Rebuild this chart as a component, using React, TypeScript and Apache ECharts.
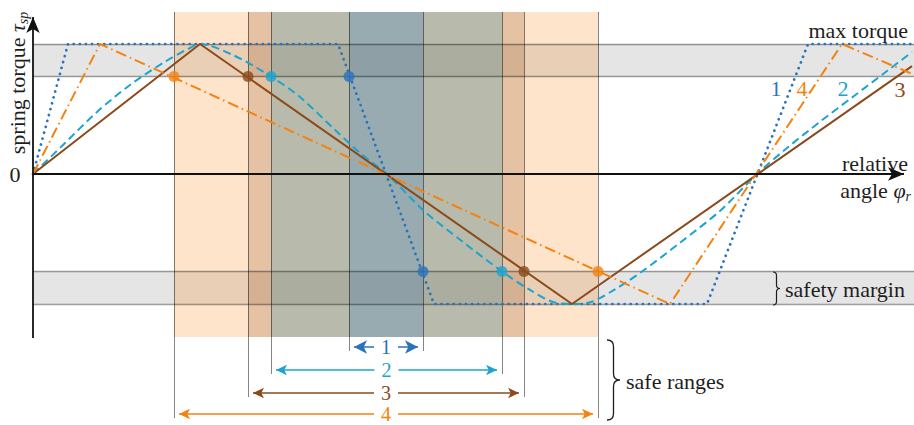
import React, { useEffect, useRef } from 'react';
import * as echarts from 'echarts';

// ---------------- DATA ----------------
// relative angle φr in drawing units from the origin, spring torque τsp normalised to max torque = 1
const maxTorque = 1;
const safetyLimit = 0.75;

// spring 1 (blue, dotted)
const angle1 = [0, 35, 305, 401, 674, 775, 879];
const torque1 = [0, 1, 1, -1, -1, 1, 1];
// spring 2 (cyan, dashed)
const angle2 = [0, 30, 64, 97, 130, 155, 167, 200, 238, 267, 300, 327, 354, 390, 430, 469, 497, 520, 539, 558, 581, 609, 648, 688, 724, 754, 788, 821, 854, 879];
const torque2 = [0, 0.223, 0.477, 0.685, 0.854, 0.962, 1, 0.915, 0.75, 0.592, 0.354, 0.162, 0, -0.277, -0.523, -0.75, -0.892, -0.985, -1, -0.985, -0.892, -0.75, -0.523, -0.277, 0, 0.2, 0.408, 0.6, 0.792, 0.938];
// spring 3 (brown, solid)
const angle3 = [0, 167, 539, 879];
const torque3 = [0, 1, -1, 0.83];
// spring 4 (orange, dash-dot)
const angle4 = [0, 67, 637, 809, 879];
const torque4 = [0, 1, -1, 1, 0.77];

// safe ranges per spring
const springLabels = ['1', '2', '3', '4'];
const safeStart = [316, 238, 215, 141];
const safeEnd = [390, 469, 491, 565];

// ---------------- LAYOUT / STYLE ----------------
const W = 914;
const H = 425;
const ORIGIN_X = 33;
const ORIGIN_Y = 174;
const PX_PER_TORQUE = 130;
const tauAt = (py: number) => (ORIGIN_Y - py) / PX_PER_TORQUE;
const angleAt = (px: number) => px - ORIGIN_X;

const FONT = "'Liberation Serif', 'DejaVu Serif', serif";
const TEXT = '#1e1e1e';
const springColors = ['#2a72bd', '#1ba4cf', '#8b4a1b', '#f5820f'];
const lineTypes: any[] = [[0.1, 6], [8, 4.5], 'solid', [11, 4, 1.5, 4]];
const lineCaps = ['round', 'butt', 'butt', 'butt'];
const lineWidths = [2.7, 2, 2, 2];
const arrowRowsPx = [347, 370, 393, 414];
const arrowSizes: any[] = [[10, 13], [8, 11], [8, 11], [8, 11]];
const bandTopPx = 12;
const bandBottomPx = 337;

const rgba = (hex: string, a: number) => {
  const n = parseInt(hex.slice(1), 16);
  return `rgba(${(n >> 16) & 255},${(n >> 8) & 255},${n & 255},${a})`;
};

const Brace = echarts.graphic.extendShape({
  shape: { x: 0, y: 0, w: 10, h: 40 },
  buildPath(ctx: any, s: any) {
    const { x, y, w, h } = s;
    const m = x + w / 2;
    const r = Math.min(w / 2, h / 5);
    ctx.moveTo(x, y);
    ctx.quadraticCurveTo(m, y, m, y + r);
    ctx.lineTo(m, y + h / 2 - r);
    ctx.quadraticCurveTo(m, y + h / 2, x + w, y + h / 2);
    ctx.quadraticCurveTo(m, y + h / 2, m, y + h / 2 + r);
    ctx.lineTo(m, y + h - r);
    ctx.quadraticCurveTo(m, y + h, x, y + h);
  },
});
echarts.graphic.registerShape('brace', Brace);

function buildOption() {
  const angles = [angle1, angle2, angle3, angle4];
  const torques = [torque1, torque2, torque3, torque4];
  const series: any[] = [];
  const xEnd = angleAt(W);

  // grey max-torque / safety-margin bands
  series.push({
    type: 'line',
    data: [],
    silent: true,
    markArea: {
      silent: true,
      z: 1,
      itemStyle: { color: 'rgba(0,0,0,0.1)' },
      data: [
        [{ coord: [0, maxTorque] }, { coord: [xEnd, safetyLimit] }],
        [{ coord: [0, -safetyLimit] }, { coord: [xEnd, -maxTorque] }],
      ],
    },
    markLine: {
      silent: true,
      z: 2,
      symbol: ['none', 'none'],
      label: { show: false },
      lineStyle: { color: 'rgba(0,0,0,0.38)', width: 1.3, type: 'solid' },
      data: [maxTorque, safetyLimit, -safetyLimit, -maxTorque].map((v) => [
        { coord: [0, v] },
        { coord: [xEnd, v] },
      ]),
    },
  });

  // safe-range vertical bands, widest first
  for (const i of [3, 2, 1, 0]) {
    const c = springColors[i];
    series.push({
      type: 'line',
      data: [],
      silent: true,
      markArea: {
        silent: true,
        z: 1,
        itemStyle: { color: rgba(c, 0.22) },
        data: [[{ coord: [safeStart[i], tauAt(bandTopPx)] }, { coord: [safeEnd[i], tauAt(bandBottomPx)] }]],
      },
      markLine: {
        silent: true,
        z: 2,
        symbol: ['none', 'none'],
        label: { show: false },
        lineStyle: { color: 'rgba(0,0,0,0.48)', width: 1, type: 'solid' },
        data: [safeStart[i], safeEnd[i]].map((x) => [
          { coord: [x, tauAt(bandTopPx)] },
          { coord: [x, tauAt(arrowRowsPx[i] + 4)] },
        ]),
      },
    });
    const mid = (safeStart[i] + safeEnd[i]) / 2;
    const row = tauAt(arrowRowsPx[i]);
    series.push({
      type: 'line',
      data: [],
      silent: true,
      markLine: {
        silent: true,
        z: 3,
        symbol: ['none', 'arrow'],
        symbolSize: arrowSizes[i],
        label: { show: false },
        lineStyle: { color: c, width: 1.5, type: 'solid' },
        data: [
          [{ coord: [mid - 12, row] }, { coord: [safeStart[i] + 5, row] }],
          [{ coord: [mid + 12, row] }, { coord: [safeEnd[i] - 5, row] }],
        ],
      },
      markPoint: {
        silent: true,
        z: 3,
        symbol: 'circle',
        symbolSize: 1,
        itemStyle: { color: 'rgba(0,0,0,0)' },
        label: {
          show: true,
          position: 'inside',
          formatter: springLabels[i],
          color: c,
          fontSize: 20,
          lineHeight: 18,
          fontFamily: FONT,
        },
        data: [{ coord: [mid, row] }],
      },
    });
  }

  // spring characteristics
  for (let i = 0; i < 4; i++) {
    series.push({
      type: 'line',
      z: 3,
      silent: true,
      showSymbol: false,
      smooth: i === 1 ? 0.3 : false,
      data: angles[i].map((a, k) => [a, torques[i][k]]),
      lineStyle: { color: springColors[i], width: lineWidths[i], type: lineTypes[i], cap: lineCaps[i] },
    });
  }

  // safe-range limit points
  for (let i = 0; i < 4; i++) {
    series.push({
      type: 'scatter',
      z: 4,
      silent: true,
      symbolSize: 11,
      itemStyle: { color: springColors[i] },
      data: [
        [safeStart[i], safetyLimit],
        [safeEnd[i], -safetyLimit],
      ],
    });
  }

  // axes with arrows
  series.push({
    type: 'line',
    data: [],
    silent: true,
    markLine: {
      silent: true,
      z: 6,
      symbol: ['none', 'arrow'],
      symbolSize: [10, 16],
      label: { show: false },
      lineStyle: { color: '#111', width: 1.8, type: 'solid' },
      data: [
        [{ coord: [0, tauAt(338)] }, { coord: [0, tauAt(17)] }],
        [{ coord: [0, 0] }, { coord: [angleAt(904), 0] }],
      ],
    },
  });

  const txt = (text: string, x: number, y: number, align: string, extra: any = {}) => ({
    type: 'text',
    x,
    y,
    silent: true,
    z: 10,
    style: { text, align, verticalAlign: 'middle', fill: TEXT, fontSize: 22, fontFamily: FONT, ...extra },
  });

  const rich = {
    a: { fontSize: 22, fontFamily: FONT, color: TEXT, lineHeight: 26 },
    b: { fontSize: 22, fontFamily: FONT, fontStyle: 'italic', color: TEXT, lineHeight: 26 },
    c: { fontSize: 14, fontFamily: FONT, fontStyle: 'italic', color: TEXT, lineHeight: 12, verticalAlign: 'bottom' },
  };

  const graphic: any[] = [
    txt('max torque', 908, 30, 'right'),
    txt('relative', 908, 163, 'right'),
    txt('{a|angle }{b|φ}{c|r}', 911, 190, 'right', { rich }),
    txt('0', 15, 174, 'center'),
    txt('safety margin', 785, 289, 'left'),
    txt('safe ranges', 626, 381, 'left'),
    txt('1', 776, 88, 'center', { fill: springColors[0] }),
    txt('4', 802, 88, 'center', { fill: springColors[3] }),
    txt('2', 843, 88, 'center', { fill: springColors[1] }),
    txt('3', 900, 89, 'center', { fill: springColors[2] }),
    {
      type: 'text',
      x: 17,
      y: 83,
      rotation: Math.PI / 2,
      silent: true,
      z: 10,
      style: {
        text: '{a|spring torque }{b|τ}{c|sp}',
        rich,
        align: 'center',
        verticalAlign: 'middle',
        fill: TEXT,
        fontSize: 22,
        fontFamily: FONT,
      },
    },
    {
      type: 'brace',
      silent: true,
      z: 10,
      shape: { x: 773, y: 272, w: 7, h: 33 },
      style: { stroke: TEXT, fill: 'none', lineWidth: 1.2 },
    },
    {
      type: 'brace',
      silent: true,
      z: 10,
      shape: { x: 607, y: 340, w: 13, h: 80 },
      style: { stroke: TEXT, fill: 'none', lineWidth: 1.3 },
    },
  ];

  return {
    animation: false,
    backgroundColor: '#ffffff',
    textStyle: { fontFamily: FONT },
    grid: { left: 0, right: 0, top: 0, bottom: 0, containLabel: false },
    xAxis: { type: 'value', min: angleAt(0), max: angleAt(W), show: false },
    yAxis: { type: 'value', min: tauAt(H), max: tauAt(0), show: false },
    series,
    graphic,
  };
}

export default function App() {
  const ref = useRef<HTMLDivElement>(null);
  useEffect(() => {
    const chart = echarts.init(ref.current!, null, { renderer: 'svg' });
    chart.setOption(buildOption() as any);
    return () => chart.dispose();
  }, []);
  return (
    <div
      ref={ref}
      style={{ position: 'fixed', left: 0, top: 0, width: W, height: H, background: '#fff' }}
    />
  );
}
